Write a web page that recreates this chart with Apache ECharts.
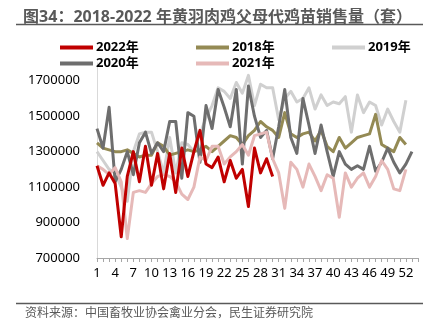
<!DOCTYPE html>
<html><head><meta charset="utf-8">
<script src="https://cdn.jsdelivr.net/npm/echarts@6/dist/echarts.min.js"></script>
<style>html,body{margin:0;padding:0;background:#fff}#c{width:435px;height:324px}</style>
</head><body><div id="c"></div>
<script>
const weeks = Array.from({length: 54}, (_, i) => String(i + 1));
const yTicks = [700000, 900000, 1100000, 1300000, 1500000, 1700000];
const s2018 = [1350000,1320000,1310000,1300000,1300000,1310000,1290000,1270000,1280000,1280000,1350000,1330000,1280000,1290000,1300000,1310000,1300000,1310000,1330000,1300000,1330000,1360000,1390000,1380000,1340000,1390000,1420000,1470000,1440000,1420000,1380000,1520000,1400000,1380000,1400000,1410000,1360000,1420000,1330000,1300000,1380000,1320000,1350000,1380000,1390000,1400000,1510000,1340000,1320000,1300000,1380000,1340000];
const s2019 = [1300000,1250000,1200000,1180000,1100000,1020000,1300000,1400000,1410000,1410000,1300000,1180000,1380000,1180000,1350000,1340000,1300000,1400000,1490000,1560000,1660000,1640000,1600000,1690000,1630000,1730000,1560000,1680000,1660000,1660000,1480000,1600000,1640000,1580000,1600000,1660000,1540000,1620000,1560000,1580000,1570000,1610000,1410000,1620000,1520000,1580000,1560000,1450000,1540000,1470000,1410000,1590000];
const s2020 = [1430000,1320000,1550000,1130000,1200000,1300000,1170000,1350000,1410000,1290000,1350000,1300000,1470000,1470000,1150000,1520000,1500000,1240000,1560000,1430000,1650000,1550000,1440000,1650000,1230000,1670000,1500000,1380000,1420000,1260000,1440000,1650000,1380000,1290000,1600000,1450000,1290000,1450000,1300000,1160000,1300000,1230000,1200000,1220000,1200000,1330000,1190000,1240000,1320000,1240000,1180000,1230000,1300000];
const s2021 = [1220000,1200000,1170000,1210000,1130000,810000,1070000,1080000,1070000,1120000,1160000,1170000,1160000,1130000,1060000,1030000,1100000,1270000,1250000,1330000,1330000,1230000,1270000,1300000,1340000,1280000,1390000,1400000,1410000,1260000,1180000,980000,1240000,1200000,1100000,1230000,1160000,1080000,1170000,1150000,930000,1180000,1100000,1150000,1180000,1100000,1160000,1250000,1200000,1090000,1080000,1200000];
const s2022 = [1220000,1110000,1180000,1120000,820000,1160000,1300000,1130000,1330000,1110000,1290000,1090000,1290000,1070000,1320000,1160000,1300000,1420000,1230000,1210000,1270000,1130000,1250000,1150000,1200000,990000,1320000,1180000,1260000,1160000];

const chart = echarts.init(document.getElementById('c'));
const F = '"Noto Sans", "Noto Sans CJK SC", sans-serif';
function line(name, data, color, z) {
  return {name, type: 'line', data, symbol: 'none', z,
    lineStyle: {color, width: 3, join: 'round'}, itemStyle: {color}};
}
function legend(left, names) {
  return {left, top: 36, orient: 'vertical', data: names, icon: 'rect',
    itemWidth: 33, itemHeight: 4, itemGap: 3,
    textStyle: {fontFamily: F, fontSize: 13, fontWeight: 'bold', color: '#000', lineHeight: 13, padding: [0,0,0,-2]}};
}
chart.setOption({
  animation: false,
  title: {text: '图34：2018-2022 年黄羽肉鸡父母代鸡苗销售量（套）', left: 'center', top: 4,
    textStyle: {fontFamily: F, fontSize: 16, fontWeight: 'bold', color: '#595959'}},
  graphic: [
    {type: 'line', shape: {x1: 16, y1: 24.5, x2: 423, y2: 24.5}, style: {stroke: '#595959', lineWidth: 1.5}},
    {type: 'line', shape: {x1: 16, y1: 303.5, x2: 423, y2: 303.5}, style: {stroke: '#595959', lineWidth: 1.5}},
    {type: 'text', left: 25, top: 308, style: {text: '资料来源：中国畜牧业协会禽业分会，民生证券研究院', font: '12px ' + F, fill: '#595959'}}
  ],
  legend: [legend(55, ['2022年', '2020年']), legend(191, ['2018年', '2021年']), legend(327, ['2019年'])],
  grid: {left: 97, right: 17, top: 63, bottom: 66},
  xAxis: {type: 'category', data: weeks, boundaryGap: false,
    axisLine: {lineStyle: {color: '#A6A6A6', width: 1}},
    axisTick: {show: true, interval: 0, length: 4, lineStyle: {color: '#A6A6A6'}},
    axisLabel: {interval: 2, fontFamily: F, fontSize: 13, color: '#000', margin: 9}},
  yAxis: {type: 'value', min: 700000, max: 1800000, interval: 200000,
    axisLine: {show: true, lineStyle: {color: '#D9D9D9', width: 1}},
    axisTick: {show: false}, splitLine: {show: false},
    axisLabel: {showMaxLabel: false, fontFamily: F, fontSize: 13, color: '#000', margin: 17,
      formatter: v => yTicks.includes(v) ? String(v) : ''}},
  series: [
    line('2019年', s2019, '#D0D0D0', 1),
    line('2018年', s2018, '#948A54', 2),
    line('2020年', s2020, '#6E6E6E', 3),
    line('2021年', s2021, '#E6B9B8', 4),
    line('2022年', s2022, '#C00000', 5)
  ]
});
</script></body></html>
